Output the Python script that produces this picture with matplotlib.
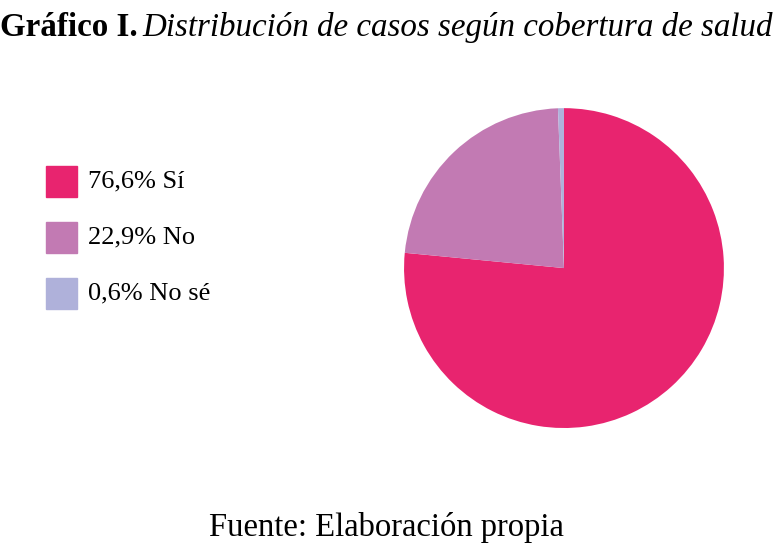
import matplotlib
matplotlib.use("Agg")
import matplotlib.pyplot as plt
from matplotlib.patches import Rectangle

# datos del grafico
categorias = ["Sí", "No", "No sé"]
porcentajes = [76.6, 22.9, 0.6]
colores = ["#E8246F", "#C27AB3", "#AFB1DA"]

plt.rcParams['font.family'] = ['Liberation Serif', 'DejaVu Serif']

fig = plt.figure(figsize=(7.73, 5.44), dpi=100)

ax = fig.add_axes([0.5226, 0.2132, 0.414, 0.588])
ax.pie(porcentajes, colors=colores, startangle=90, counterclock=False,
       wedgeprops=dict(linewidth=0))
ax.set_aspect('equal')
ax.set_xlim(-1, 1)
ax.set_ylim(-1, 1)

# leyenda manual
W, H = 773.0, 544.0
for i, (cat, p, col) in enumerate(zip(categorias, porcentajes, colores)):
    top = 166 + i * 56
    fig.patches.append(Rectangle((46 / W, 1 - (top + 31) / H), 31 / W, 31 / H,
                                 transform=fig.transFigure, color=col))
    lab = ("%.1f%% %s" % (p, cat)).replace(".", ",")
    fig.text(88 / W, 1 - (top + 15.5) / H, lab, fontsize=19, va='center', ha='left')

# titulo
t1 = fig.text(0.0, 1 - 36 / H, "Gráfico I.", fontsize=23.8, fontweight='bold', va='baseline')
fig.canvas.draw()
bb = t1.get_window_extent()
fig.text((bb.x1 + 5) / W, 1 - 36 / H, "Distribución de casos según cobertura de salud",
         fontsize=23.8, fontstyle='italic', va='baseline')

fig.text(0.5, 1 - 536 / H, "Fuente: Elaboración propia", fontsize=23.5, ha='center', va='baseline')

fig.savefig("out.png", dpi=100)
